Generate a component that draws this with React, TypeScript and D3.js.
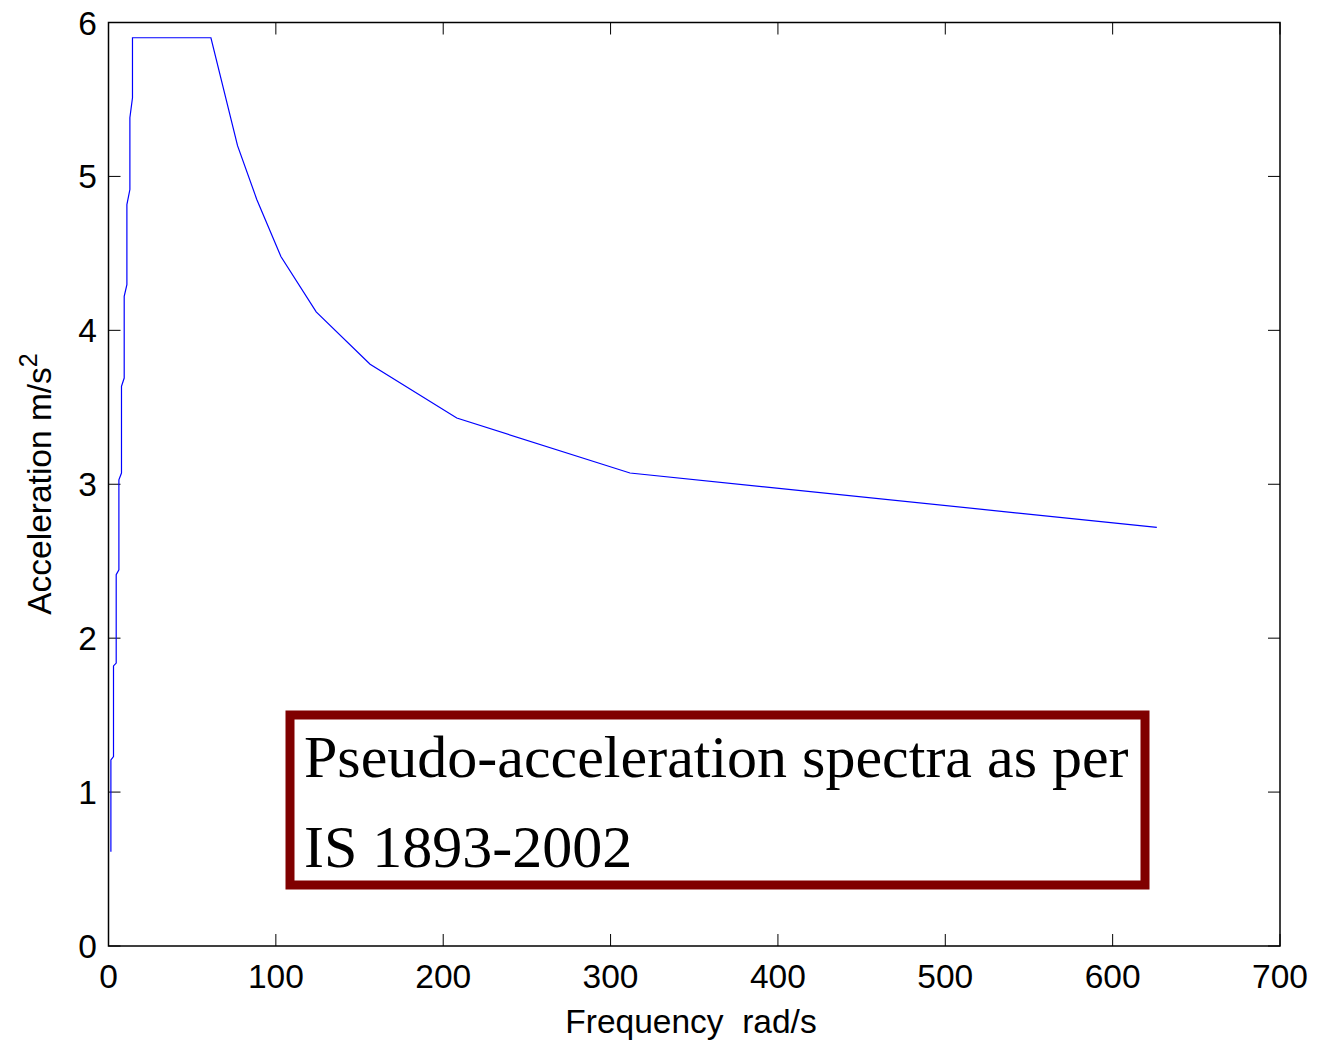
import React from "react";
import * as d3 from "d3";

// Frequency (rad/s) and pseudo-acceleration (m/s^2)
const freq: number[] = [
  1.43, 1.43, 2.99, 2.99, 4.6, 4.6, 6.21, 6.21, 7.76, 7.76, 9.38, 9.38, 10.99, 10.99,
  12.78, 12.78, 14.33, 14.33, 61.2, 77.1, 88.6, 103.0, 124.1, 156.3, 208.1, 311.6, 626.4,
];
const accel: number[] = [
  0.613, 1.209, 1.231, 1.82, 1.838, 2.412, 2.444, 3.029, 3.073, 3.636, 3.69, 4.221, 4.297, 4.817,
  4.915, 5.381, 5.511, 5.901, 5.901, 5.2, 4.85, 4.48, 4.12, 3.78, 3.43, 3.073, 2.72,
];
const xTicks: number[] = [0, 100, 200, 300, 400, 500, 600, 700];
const yTicks: number[] = [0, 1, 2, 3, 4, 5, 6];
const xLabel = "Frequency  rad/s";
const yLabel = "Acceleration m/s";
const annotationLines: string[] = ["Pseudo-acceleration spectra as per", "IS 1893-2002"];

const W = 1317;
const H = 1044;
const L = 108.5;
const R = 1280;
const T = 22.5;
const B = 946;

export default function App() {
  const x = d3.scaleLinear().domain([0, 700]).range([L, R]);
  const y = d3.scaleLinear().domain([0, 6]).range([B, T]);
  const pts: [number, number][] = freq.map((f, i) => [f, accel[i]]);
  const line = d3
    .line<[number, number]>()
    .x((d) => x(d[0]))
    .y((d) => y(d[1]));
  const tickLen = 12;
  const font = "Liberation Sans, Arial, Helvetica, sans-serif";
  const fs = 33.5;
  return (
    <div style={{ position: "absolute", left: 0, top: 0 }}>
      <svg width={W} height={H} style={{ display: "block", background: "#fff" }}>
        <rect x={0} y={0} width={W} height={H} fill="#fff" />
        {/* ticks */}
        {xTicks.map((t) => (
          <g key={"xt" + t}>
            <line x1={x(t)} x2={x(t)} y1={B} y2={B - tickLen} stroke="#000" strokeWidth={1} />
            <line x1={x(t)} x2={x(t)} y1={T} y2={T + tickLen} stroke="#000" strokeWidth={1} />
            <text
              x={x(t)}
              y={988}
              textAnchor="middle"
              fontFamily={font}
              fontSize={fs}
              fill="#000"
            >
              {t}
            </text>
          </g>
        ))}
        {yTicks.map((t) => (
          <g key={"yt" + t}>
            <line x1={L} x2={L + tickLen} y1={y(t)} y2={y(t)} stroke="#000" strokeWidth={1} />
            <line x1={R} x2={R - tickLen} y1={y(t)} y2={y(t)} stroke="#000" strokeWidth={1} />
            <text
              x={97}
              y={y(t) + 12}
              textAnchor="end"
              fontFamily={font}
              fontSize={fs}
              fill="#000"
            >
              {t}
            </text>
          </g>
        ))}
        {/* axes box */}
        <rect x={L} y={T} width={R - L} height={B - T} fill="none" stroke="#000" strokeWidth={1.5} />
        {/* data line */}
        <path d={line(pts) || ""} fill="none" stroke="#0000ff" strokeWidth={1.2} />
        {/* axis labels */}
        <text
          x={691}
          y={1033}
          textAnchor="middle"
          fontFamily={font}
          fontSize={fs}
          fill="#000"
          style={{ whiteSpace: "pre" }}
        >
          {xLabel}
        </text>
        <text
          transform={`translate(51, 484) rotate(-90)`}
          textAnchor="middle"
          fontFamily={font}
          fontSize={fs}
          fill="#000"
        >
          {yLabel}
          <tspan dy={-14} fontSize={25}>
            2
          </tspan>
        </text>
        {/* annotation box */}
        <rect x={290} y={715} width={855} height={170} fill="#fff" stroke="#800000" strokeWidth={9} />
        {annotationLines.map((s, i) => (
          <text
            key={"ann" + i}
            x={304}
            y={777 + i * 90}
            fontFamily="Liberation Serif, Times New Roman, serif"
            fontSize={60}
            fill="#000"
          >
            {s}
          </text>
        ))}
      </svg>
    </div>
  );
}
